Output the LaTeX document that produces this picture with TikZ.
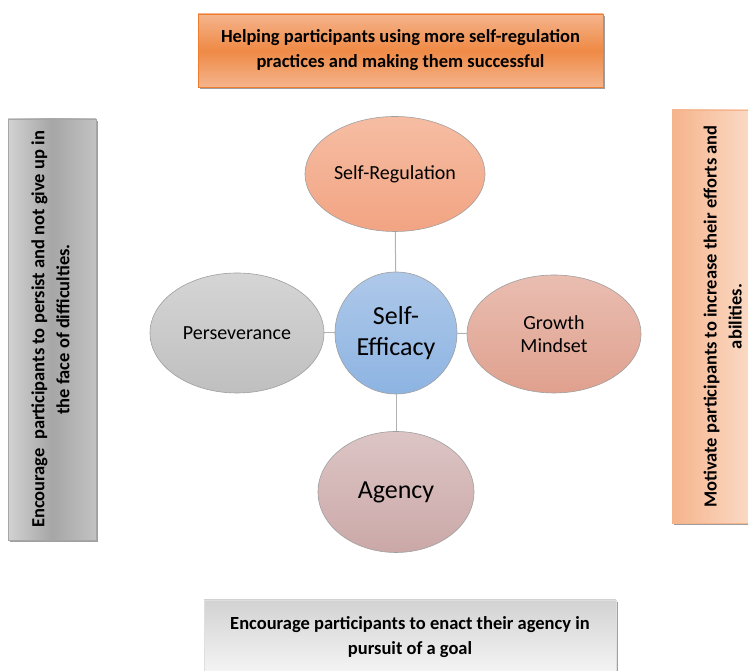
\documentclass[tikz,border=0pt]{standalone}
\usepackage{fontspec}
\setmainfont{Carlito}
\usepackage{xcolor}
\usepackage{graphicx}
\usepackage{tikz}
\usetikzlibrary{shapes.geometric, arrows, shadows}

\definecolor{orangedark}{HTML}{ED7D31}
\definecolor{orangelight}{HTML}{F5B48C}
\definecolor{peachlight}{HTML}{FCE6D8}
\definecolor{regtop}{HTML}{F6BDA3}
\definecolor{regbottom}{HTML}{F2A483}
\definecolor{growtop}{HTML}{E9BDB1}
\definecolor{growbottom}{HTML}{E0A18E}
\definecolor{efftop}{HTML}{AEC8E9}
\definecolor{effbottom}{HTML}{8DB4E2}
\definecolor{agtop}{HTML}{DDC5C5}
\definecolor{agbottom}{HTML}{CBA8A8}
\definecolor{sidelight}{HTML}{D2D2D2}
\definecolor{sidedark}{HTML}{A6A6A6}
\definecolor{sidemid}{HTML}{C2C2C2}

% text standing upright in a side box
\newcommand{\sidetext}[1]{\rotatebox{90}{\begin{tabular}{@{}c@{}}#1\end{tabular}}}

\begin{document}
\begin{tikzpicture}[x=1pt, y=1pt,
        oval/.style={ellipse, draw=gray!75, line width=0.6pt, inner sep=0pt, align=center,
            font=\fontsize{20}{23}\selectfont},
        note/.style={rectangle, line width=0.8pt, inner sep=0pt, align=center,
            font=\bfseries\fontsize{18.5}{25}\selectfont,
            drop shadow={shadow xshift=2pt, shadow yshift=-2pt, fill=gray!75, opacity=1}},
        link/.style={draw=gray!60, line width=1pt}]
        \useasboundingbox (0,0) rectangle (748,671);

        % boxes round the diagram
        \node[note, draw=orangedark, top color=orangelight, bottom color=orangelight,
            middle color=orangedark!90, minimum width=405pt, minimum height=73pt]
            (helping) at (400.5,620.5) {Helping participants using more self-regulation\\practices and making them successful};
        \node[note, draw=gray!70, left color=sidelight, right color=sidemid,
            middle color=sidedark, minimum width=88pt, minimum height=421pt]
            (persist) at (52,341.5) {\sidetext{Encourage\ \ participants to persist and not give up in\\the face of difficulties.}};
        \node[note, draw=orangelight, left color=orangelight, right color=peachlight,
            minimum width=104pt, minimum height=413pt]
            (motivate) at (724,354.5) {\sidetext{Motivate participants to increase their efforts and\\abilities.}};
        \node[note, draw=gray!25, top color=gray!35, bottom color=gray!8,
            minimum width=412pt, minimum height=74pt]
            (enact) at (410,34) {Encourage participants to enact their agency in\\pursuit of a goal};

        % ovals
        \node[oval, top color=regtop, bottom color=regbottom, minimum width=180pt, minimum height=115pt]
            (selfreg) at (395,497) {Self-Regulation};
        \node[oval, top color=gray!33, bottom color=gray!50, minimum width=174pt, minimum height=120pt]
            (persev) at (237,338) {Perseverance};
        \node[oval, top color=growtop, bottom color=growbottom, minimum width=174pt, minimum height=118pt]
            (growth) at (554,337) {Growth\\Mindset};
        \node[oval, circle, top color=efftop, bottom color=effbottom, minimum size=122pt,
            font=\fontsize{26}{31}\selectfont]
            (efficacy) at (396,338) {Self-\\Efficacy};
        \node[oval, top color=agtop, bottom color=agbottom, minimum width=156pt, minimum height=121pt,
            font=\fontsize{26}{30}\selectfont]
            (agency) at (396,179) {Agency};

        \draw[link] (efficacy) -- (selfreg);
        \draw[link] (efficacy) -- (persev);
        \draw[link] (efficacy) -- (growth);
        \draw[link] (efficacy) -- (agency);
    \end{tikzpicture}
\end{document}
